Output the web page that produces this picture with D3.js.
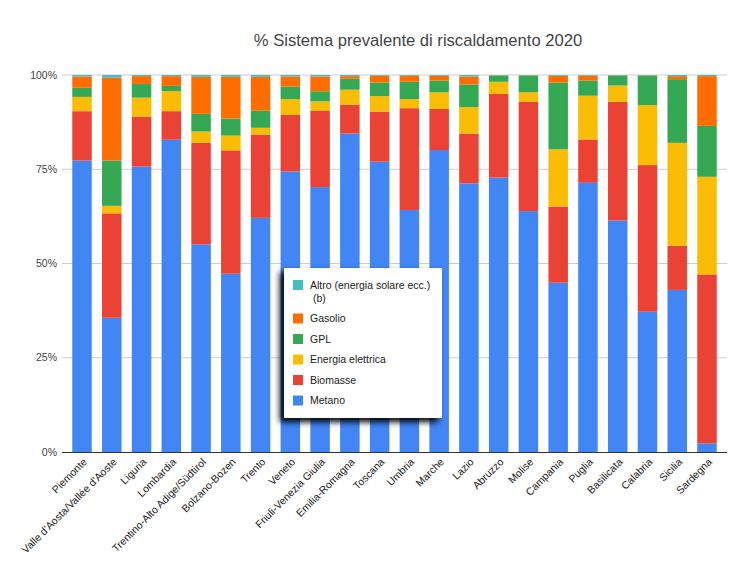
<!DOCTYPE html>
<html><head><meta charset="utf-8">
<script src="https://cdn.jsdelivr.net/npm/d3@7"></script>
<style>body{margin:0;background:#fff}svg{display:block;font-family:"Liberation Sans",Arial,sans-serif}</style>
</head><body><svg id="c" width="740" height="583"></svg>
<script>
const categories = ["Piemonte","Valle d'Aosta/Vallée d'Aoste","Liguria","Lombardia","Trentino-Alto Adige/Südtirol","Bolzano-Bozen","Trento","Veneto","Friuli-Venezia Giulia","Emilia-Romagna","Toscana","Umbria","Marche","Lazio","Abruzzo","Molise","Campania","Puglia","Basilicata","Calabria","Sicilia","Sardegna"];
const metano    = [77.3,35.6,75.7,82.9,55.1,47.1,62.1,74.4,70.2,84.4,77.0,64.2,80.1,71.1,72.8,63.9,44.9,71.4,61.4,37.2,43.0,2.3];
const biomasse  = [13.1,27.7,13.2,7.6,26.9,32.6,22.1,15.0,20.3,7.6,13.3,27.0,10.9,13.2,22.2,29.0,20.2,11.5,31.5,38.9,11.7,44.8];
const elettrica = [3.8,2.0,5.1,5.3,3.0,3.9,1.8,4.2,2.4,4.0,4.1,2.4,4.4,7.0,3.2,2.5,15.2,11.6,4.3,15.9,27.3,25.9];
const gpl       = [2.4,12.0,3.6,1.4,4.7,4.5,4.5,3.3,2.7,2.9,3.6,4.6,3.1,6.0,1.6,4.4,17.7,4.0,2.6,7.8,16.9,13.5];
const gasolio   = [3.0,22.0,2.1,2.6,9.8,11.0,9.0,2.7,3.9,0.7,1.8,1.6,1.3,2.1,0.1,0.1,1.8,1.3,0.1,0.1,0.8,13.2];
const altro     = [0.4,0.7,0.3,0.3,0.5,0.5,0.5,0.4,0.4,0.3,0.2,0.2,0.2,0.4,0.1,0.1,0.2,0.2,0.1,0.1,0.3,0.3];
const seriesNames = ["Metano","Biomasse","Energia elettrica","GPL","Gasolio","Altro (energia solare ecc.) (b)"];
const seriesColors = ["#4285F4","#EA4335","#FBBC04","#34A853","#FF6D01","#46BDC6"];
const yTicks = [0,25,50,75,100];

const keys = ["metano","biomasse","elettrica","gpl","gasolio","altro"];
const cols = [metano,biomasse,elettrica,gpl,gasolio,altro];
const rows = categories.map((c,i)=>{const r={cat:c}; keys.forEach((k,j)=>r[k]=cols[j][i]); return r;});
const stack = d3.stack().keys(keys).offset(d3.stackOffsetExpand)(rows);

const svg = d3.select("#c");
const x = d3.scaleBand().domain(categories).range([62,727]).paddingInner(0.345).paddingOuter(0.345);
const y = d3.scaleLinear().domain([0,1]).range([452,75]);

svg.append("text").attr("x",418).attr("y",46).attr("text-anchor","middle")
  .attr("font-size",16.6).attr("fill","#444").text("% Sistema prevalente di riscaldamento 2020");

const g = svg.append("g");
g.selectAll("line.grid").data(yTicks.filter(t=>t>0)).join("line")
  .attr("x1",62).attr("x2",727).attr("y1",d=>y(d/100)).attr("y2",d=>y(d/100))
  .attr("stroke","#ccc").attr("stroke-width",1);
g.selectAll("text.yl").data(yTicks).join("text")
  .attr("x",57).attr("y",d=>y(d/100)).attr("dy","0.35em").attr("text-anchor","end")
  .attr("font-size",10.5).attr("fill","#444").text(d=>d+"%");

stack.forEach((s,j)=>{
  g.append("g").attr("fill",seriesColors[j]).selectAll("rect").data(s).join("rect")
    .attr("x",d=>x(d.data.cat)).attr("width",x.bandwidth())
    .attr("y",d=>y(d[1])).attr("height",d=>Math.max(0,y(d[0])-y(d[1])));
});

g.append("line").attr("x1",62).attr("x2",727).attr("y1",452.5).attr("y2",452.5).attr("stroke","#333").attr("stroke-width",1);

g.selectAll("text.xl").data(categories).join("text")
  .attr("transform",d=>`translate(${x(d)+x.bandwidth()/2+3},${460}) rotate(-45)`)
  .attr("text-anchor","end").attr("dy","0.35em")
  .attr("font-size",10.5).attr("fill","#222").text(d=>d);

// legend
const defs = svg.append("defs");
const f = defs.append("filter").attr("id","sh").attr("x","-20%").attr("y","-20%").attr("width","140%").attr("height","140%");
f.append("feDropShadow").attr("dx",-4).attr("dy",4).attr("stdDeviation",3).attr("flood-color","#000").attr("flood-opacity",1);
const lg = svg.append("g");
lg.append("rect").attr("x",284).attr("y",268).attr("width",158).attr("height",150).attr("fill","#fff").attr("filter","url(#sh)");
const legendOrder = [5,4,3,2,1,0];
const ly = [285,318.5,339,359.5,380,400.5];
legendOrder.forEach((si,k)=>{
  lg.append("rect").attr("x",293).attr("y",ly[k]-5).attr("width",10).attr("height",10).attr("fill",seriesColors[si]);
  if(si===5){
    lg.append("text").attr("x",310).attr("y",ly[k]).attr("dy","0.35em").attr("font-size",10.5).attr("fill","#222").text("Altro (energia solare ecc.)");
    lg.append("text").attr("x",313).attr("y",ly[k]+13.5).attr("dy","0.35em").attr("font-size",10.5).attr("fill","#222").text("(b)");
  } else {
    lg.append("text").attr("x",310).attr("y",ly[k]).attr("dy","0.35em").attr("font-size",10.5).attr("fill","#222").text(seriesNames[si]);
  }
});
</script></body></html>
